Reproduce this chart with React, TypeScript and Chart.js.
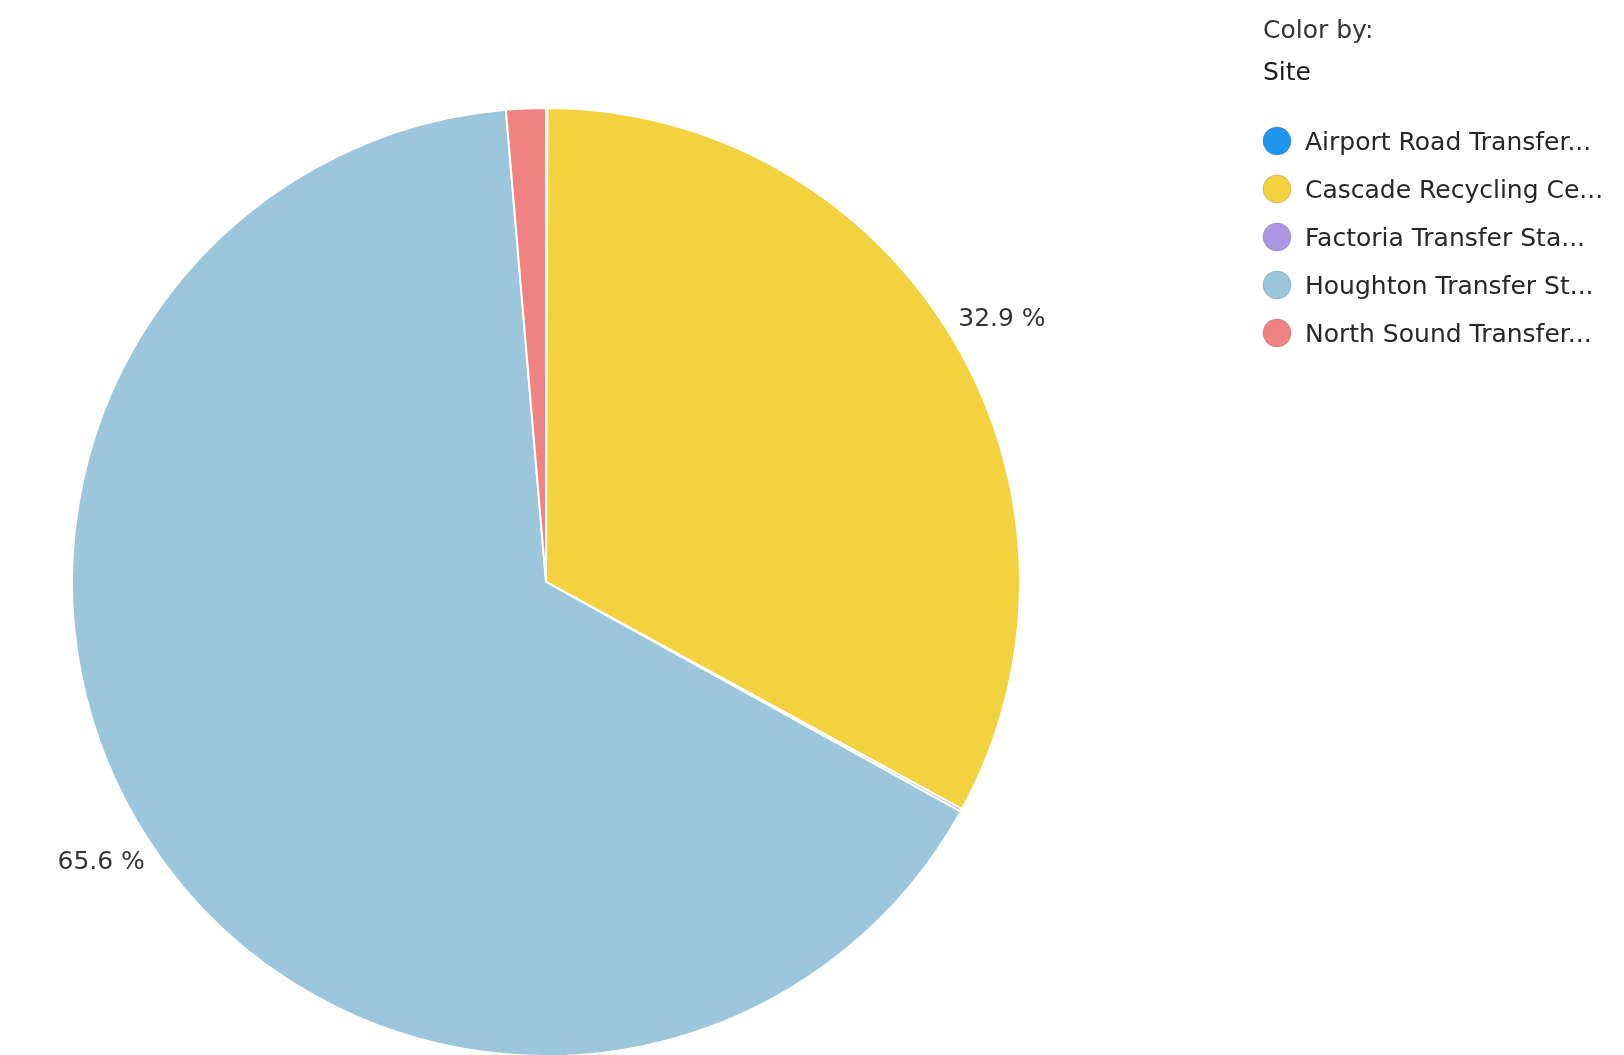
import React, { useEffect, useRef } from "react";
import { Chart, registerables } from "chart.js";

Chart.register(...registerables);

const categories = [
  "Airport Road Transfer Station",
  "Cascade Recycling Center",
  "Factoria Transfer Station",
  "Houghton Transfer Station",
  "North Sound Transfer Station",
];
const legendLabels = [
  "Airport Road Transfer...",
  "Cascade Recycling Ce...",
  "Factoria Transfer Sta...",
  "Houghton Transfer St...",
  "North Sound Transfer...",
];
const shares = [0.05, 32.9, 0.1, 65.6, 1.35];
const colors = ["#2196EE", "#F2D23F", "#AB96E4", "#9BC6DC", "#F08282"];
const legendTitle = ["Color by:", "Site"];
const labelThreshold = 5;

const FONT = '"DejaVu Sans", Verdana, sans-serif';

const overlayPlugin = {
  id: "overlay",
  afterDraw(chart: any) {
    const ctx: CanvasRenderingContext2D = chart.ctx;
    const meta = chart.getDatasetMeta(0);
    const data: number[] = chart.data.datasets[0].data;
    const total = data.reduce((a: number, b: number) => a + b, 0);
    ctx.save();
    // slice percentage labels
    ctx.font = `25px ${FONT}`;
    ctx.fillStyle = "#333333";
    ctx.textAlign = "center";
    ctx.textBaseline = "middle";
    meta.data.forEach((arc: any, i: number) => {
      const pct = (data[i] / total) * 100;
      if (pct < labelThreshold) return;
      const mid = (arc.startAngle + arc.endAngle) / 2 + 0.012;
      const r = arc.outerRadius + 52;
      const x = arc.x + Math.cos(mid) * r;
      const y = arc.y + Math.sin(mid) * r;
      ctx.fillText(pct.toFixed(1) + " %", x, y);
    });
    // legend
    ctx.textAlign = "left";
    ctx.textBaseline = "alphabetic";
    ctx.font = `25px ${FONT}`;
    ctx.fillStyle = "#333333";
    ctx.fillText(legendTitle[0], 1263, 38);
    ctx.fillStyle = "#1a1a1a";
    ctx.fillText(legendTitle[1], 1263, 80);
    const bg: string[] = chart.data.datasets[0].backgroundColor;
    legendLabels.forEach((lab: string, i: number) => {
      const cy = 141 + i * 48;
      ctx.beginPath();
      ctx.arc(1277, cy, 14, 0, Math.PI * 2);
      ctx.fillStyle = bg[i];
      ctx.fill();
      ctx.lineWidth = 1;
      ctx.strokeStyle = "rgba(0,0,0,0.15)";
      ctx.stroke();
      ctx.fillStyle = "#262626";
      ctx.fillText(lab, 1305, cy + 9);
    });
    ctx.restore();
  },
};

export default function App() {
  const ref = useRef<HTMLCanvasElement>(null);
  useEffect(() => {
    if (!ref.current) return;
    const chart = new Chart(ref.current, {
      type: "pie",
      data: {
        labels: categories,
        datasets: [
          {
            data: shares,
            backgroundColor: colors,
            borderColor: "#ffffff",
            borderWidth: 2,
          },
        ],
      },
      options: {
        responsive: false,
        animation: false,
        devicePixelRatio: 1,
        layout: { padding: { left: 71, top: 107, right: 603, bottom: 43 } },
        plugins: {
          legend: { display: false },
          tooltip: { enabled: false },
        },
      },
      plugins: [overlayPlugin],
    });
    return () => chart.destroy();
  }, []);
  return (
    <div
      style={{
        position: "fixed",
        left: 0,
        top: 0,
        width: 1624,
        height: 1055,
        overflow: "hidden",
        background: "#ffffff",
      }}
    >
      <canvas ref={ref} width={1624} height={1100} style={{ width: 1624, height: 1100, display: "block" }} />
    </div>
  );
}
